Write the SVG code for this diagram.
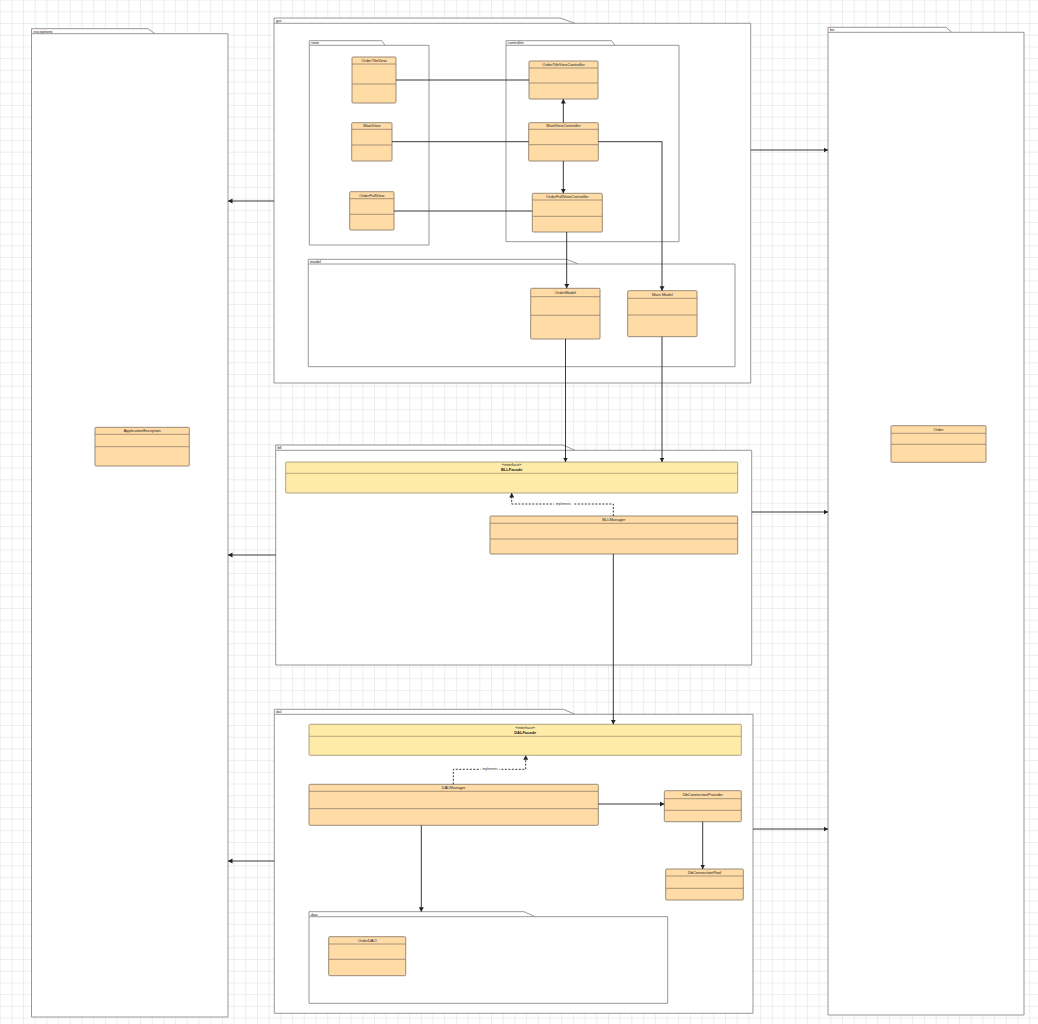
<svg xmlns="http://www.w3.org/2000/svg" width="1038" height="1024" viewBox="0 0 1038 1024">
<defs>
<pattern id="grid" x="0.6" y="0.6" width="11.7" height="11.7" patternUnits="userSpaceOnUse">
<path d="M11.7,0 V11.7 M0,11.7 H11.7" fill="none" stroke="#d6d6d6" stroke-width="0.8"/>
</pattern>
<marker id="arr" markerUnits="userSpaceOnUse" markerWidth="6" markerHeight="6" refX="4.5" refY="2.5" orient="auto">
<path d="M0,0 L4.5,2.5 L0,5 Z" fill="#222"/>
</marker>
<style>
.pkg{fill:#fff;stroke:#8c8c8c;stroke-width:0.9}
.tabl{fill:none;stroke:#8c8c8c;stroke-width:0.9}
.cls{fill:#FFDBA6;stroke:#8f806c;stroke-width:0.9}
.ifc{fill:#FFEBA8;stroke:#a89a78;stroke-width:0.9}
.sep{stroke:#8f806c;stroke-width:0.8}
.isep{stroke:#a89a78;stroke-width:0.8}
.lbl{font-family:"Liberation Sans",Arial,sans-serif;font-size:4px;fill:#222}
.nm{font-family:"Liberation Sans",Arial,sans-serif;font-size:4px;fill:#222;text-anchor:middle}
.b{font-weight:bold}
.c{fill:none;stroke:#222;stroke-width:0.9}
.ca{fill:none;stroke:#222;stroke-width:0.9;marker-end:url(#arr)}
.cd{fill:none;stroke:#222;stroke-width:0.9;stroke-dasharray:2,1.5;marker-end:url(#arr)}
.il{font-family:"Liberation Sans",Arial,sans-serif;font-size:3px;fill:#333;text-anchor:middle}
</style>
</defs>
<rect width="1038" height="1024" fill="#fff"/>
<rect width="1038" height="1024" fill="url(#grid)"/>

<g id="pkg-exceptions">
<path class="pkg" d="M31.5,33.7 V28.7 H148 L155,33.7 H228 V1017 H31.5 Z"/>
<path class="tabl" d="M31.5,33.7 H155"/>
<text class="lbl" x="33.5" y="32.5">exceptions</text>
</g>
<g id="pkg-be">
<path class="pkg" d="M828,32.3 V27.3 H946 L951.7,32.3 H1024 V1015 H828 Z"/>
<path class="tabl" d="M828,32.3 H951.7"/>
<text class="lbl" x="830" y="31.2">be</text>
</g>
<g id="pkg-gui">
<path class="pkg" d="M274,23.3 V18 H560 L575,23.3 H750.7 V383 H274 Z"/>
<path class="tabl" d="M274,23.3 H575"/>
<text class="lbl" x="276" y="22">gui</text>
</g>
<g id="pkg-view">
<path class="pkg" d="M309.3,45.3 V40.7 H381.7 L385,45.3 H429 V245 H309.3 Z"/>
<path class="tabl" d="M309.3,45.3 H385"/>
<text class="lbl" x="311" y="44.2">view</text>
</g>
<g id="pkg-controller">
<path class="pkg" d="M506,45.3 V40.7 H611.7 L615,45.3 H679 V241.7 H506 Z"/>
<path class="tabl" d="M506,45.3 H615"/>
<text class="lbl" x="507.5" y="44.2">controller</text>
</g>
<g id="pkg-model">
<path class="pkg" d="M308.3,264 V259.3 H566.7 L578.3,264 H735 V366.7 H308.3 Z"/>
<path class="tabl" d="M308.3,264 H578.3"/>
<text class="lbl" x="310" y="262.8">model</text>
</g>
<g id="pkg-bll">
<path class="pkg" d="M275.7,450.3 V445 H563 L575,450.3 H751.7 V665 H275.7 Z"/>
<path class="tabl" d="M275.7,450.3 H575"/>
<text class="lbl" x="277.5" y="449">bll</text>
</g>
<g id="pkg-dal">
<path class="pkg" d="M274.3,714.3 V709.3 H563.3 L575,714.3 H753 V1013.3 H274.3 Z"/>
<path class="tabl" d="M274.3,714.3 H575"/>
<text class="lbl" x="276" y="713">dal</text>
</g>
<g id="pkg-dao">
<path class="pkg" d="M309,916.7 V911.7 H524 L535,916.7 H667.7 V1003.3 H309 Z"/>
<path class="tabl" d="M309,916.7 H535"/>
<text class="lbl" x="310.7" y="915.5">dao</text>
</g>

<g id="OrderTileView">
<rect class="cls" x="352" y="57" width="44" height="46" rx="1"/>
<path class="sep" d="M352,64 H396 M352,84 H396"/>
<text class="nm" x="374" y="61.8">OrderTileView</text>
</g>
<g id="OrderTileViewController">
<rect class="cls" x="529" y="61" width="69" height="38" rx="1"/>
<path class="sep" d="M529,68 H598 M529,83 H598"/>
<text class="nm" x="563.5" y="65.8">OrderTileViewController</text>
</g>
<g id="MainView">
<rect class="cls" x="351.7" y="122.7" width="40.3" height="38.3" rx="1"/>
<path class="sep" d="M351.7,129.3 H392 M351.7,145 H392"/>
<text class="nm" x="371.8" y="127.3">MainView</text>
</g>
<g id="MainViewController">
<rect class="cls" x="528.7" y="122.7" width="69.6" height="38.3" rx="1"/>
<path class="sep" d="M528.7,129.3 H598.3 M528.7,144.7 H598.3"/>
<text class="nm" x="563.5" y="127.3">MainViewController</text>
</g>
<g id="OrderFullView">
<rect class="cls" x="349.7" y="191.7" width="44.3" height="38.3" rx="1"/>
<path class="sep" d="M349.7,198.7 H394 M349.7,214.3 H394"/>
<text class="nm" x="371.8" y="196.5">OrderFullView</text>
</g>
<g id="OrderFullViewController">
<rect class="cls" x="532.3" y="193.3" width="70" height="38.7" rx="1"/>
<path class="sep" d="M532.3,200 H602.3 M532.3,216.3 H602.3"/>
<text class="nm" x="567.3" y="198">OrderFullViewController</text>
</g>
<g id="OrderModel">
<rect class="cls" x="530.7" y="288.3" width="69.3" height="50.7" rx="1"/>
<path class="sep" d="M530.7,296.7 H600 M530.7,315.3 H600"/>
<text class="nm" x="565.3" y="293.5">OrderModel</text>
</g>
<g id="MainModel">
<rect class="cls" x="627.7" y="290.7" width="69.3" height="46" rx="1"/>
<path class="sep" d="M627.7,298.3 H697 M627.7,315 H697"/>
<text class="nm" x="662.3" y="295.6">Main Model</text>
</g>
<g id="BLLFacade">
<rect class="ifc" x="285.7" y="462" width="452" height="31" rx="1"/>
<path class="isep" d="M285.7,473.3 H737.7"/>
<text class="nm" x="511.7" y="466.3">«interface»</text>
<text class="nm b" x="511.7" y="470.6">BLLFacade</text>
</g>
<g id="BLLManager">
<rect class="cls" x="490" y="516" width="247.7" height="38" rx="1"/>
<path class="sep" d="M490,523.3 H737.7 M490,539 H737.7"/>
<text class="nm" x="613.8" y="520.8">BLLManager</text>
</g>
<g id="DALFacade">
<rect class="ifc" x="309" y="724.3" width="432.3" height="31" rx="1"/>
<path class="isep" d="M309,736.3 H741.3"/>
<text class="nm" x="525.2" y="728.8">«interface»</text>
<text class="nm b" x="525.2" y="733.8">DALFacade</text>
</g>
<g id="DALManager">
<rect class="cls" x="309" y="784.3" width="289.3" height="41" rx="1"/>
<path class="sep" d="M309,791.3 H598.3 M309,808.7 H598.3"/>
<text class="nm" x="453.6" y="789">DALManager</text>
</g>
<g id="DbConnectionProvider">
<rect class="cls" x="664.3" y="790.7" width="77" height="31" rx="1"/>
<path class="sep" d="M664.3,798.7 H741.3 M664.3,810.3 H741.3"/>
<text class="nm" x="702.8" y="795.6">DbConnectionProvider</text>
</g>
<g id="DbConnectionPool">
<rect class="cls" x="665.7" y="869" width="77.6" height="31" rx="1"/>
<path class="sep" d="M665.7,876 H743.3 M665.7,888.3 H743.3"/>
<text class="nm" x="704.5" y="873.8">DbConnectionPool</text>
</g>
<g id="OrderDAO">
<rect class="cls" x="328.7" y="936.7" width="77" height="39" rx="1"/>
<path class="sep" d="M328.7,944 H405.7 M328.7,959.3 H405.7"/>
<text class="nm" x="367.2" y="941.6">OrderDAO</text>
</g>
<g id="ApplicationException">
<rect class="cls" x="95" y="427.3" width="94.3" height="38.7" rx="1"/>
<path class="sep" d="M95,434.3 H189.3 M95,446.7 H189.3"/>
<text class="nm" x="142.2" y="432.2">ApplicationException</text>
</g>
<g id="Order">
<rect class="cls" x="891" y="425.7" width="95" height="36.6" rx="1"/>
<path class="sep" d="M891,433.3 H986 M891,444.3 H986"/>
<text class="nm" x="938.5" y="430.8">Order</text>
</g>

<g id="connectors">
<path class="c" d="M396,80 H529"/>
<path class="ca" d="M563.3,122.7 V99"/>
<path class="c" d="M392,141.7 H528.7"/>
<path class="ca" d="M598.3,141.7 H662 V290.7"/>
<path class="ca" d="M563.3,161 V193.3"/>
<path class="c" d="M394,211 H532.3"/>
<path class="ca" d="M566.7,232 V288.3"/>
<path class="ca" d="M565.5,339 V462"/>
<path class="ca" d="M662,336.7 V462"/>
<path class="cd" d="M613.3,516 V504 H511.7 V493"/>
<rect x="554" y="502.8" width="19" height="2.6" fill="#fff"/>
<text class="il" x="563.3" y="505.2">implements</text>
<path class="ca" d="M613.3,554 V724.3"/>
<path class="cd" d="M453.3,784.3 V769.3 H525.7 V755.3"/>
<rect x="480.5" y="768" width="19" height="2.6" fill="#fff"/>
<text class="il" x="490" y="770.4">implements</text>
<path class="ca" d="M598.3,804 H664.3"/>
<path class="ca" d="M702.7,821.7 V869"/>
<path class="ca" d="M421.3,825.3 V911.7"/>
<path class="ca" d="M274,201 H228"/>
<path class="ca" d="M750.7,150 H828"/>
<path class="ca" d="M275.7,555 H228"/>
<path class="ca" d="M751.7,512 H828"/>
<path class="ca" d="M274.3,861 H228"/>
<path class="ca" d="M753,829 H828"/>
</g>
</svg>
